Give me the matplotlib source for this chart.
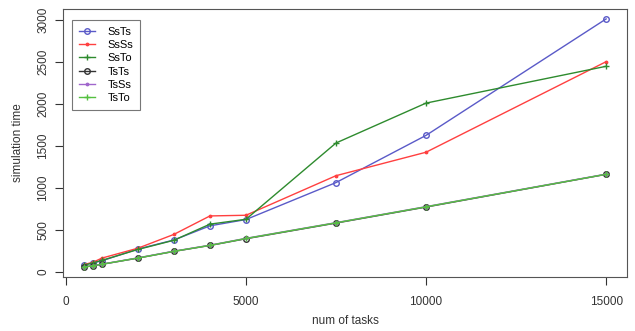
import matplotlib
matplotlib.use("Agg")
import matplotlib.pyplot as plt

plt.rcParams['font.family'] = ['Liberation Sans', 'DejaVu Sans']

tasks = [500, 750, 1000, 2000, 3000, 4000, 5000, 7500, 10000, 15000]
SsTs = [80, 106, 130, 270, 378, 547, 622, 1063, 1626, 3015]
SsSs = [85, 112, 162, 280, 445, 665, 673, 1145, 1425, 2505]
SsTo = [78, 105, 135, 265, 375, 567, 625, 1535, 2011, 2450]
TsTs = [55, 70, 88, 162, 242, 313, 393, 580, 771, 1161]
TsSs = [57, 72, 90, 165, 245, 316, 398, 585, 776, 1164]
TsTo = [56, 71, 89, 163, 243, 314, 396, 583, 774, 1162]
names = ["SsTs", "SsSs", "SsTo", "TsTs", "TsSs", "TsTo"]
xticks = [0, 5000, 10000, 15000]
yticks = [0, 500, 1000, 1500, 2000, 2500, 3000]

series = [SsTs, SsSs, SsTo, TsTs, TsSs, TsTo]
colors = ['#5a5ac8', '#ff4040', '#2e8b2e', '#333333', '#a066cc', '#55c040']
markers = ['o', '.', '+', 'o', '.', '+']
msizes = [4, 3.5, 5, 4, 3.5, 5]

fig = plt.figure(figsize=(6.35, 3.31), dpi=100)
ax = fig.add_axes([63/635, 1-277/331, (627-63)/635, (277-9)/331])

for s, n, c, m, ms in zip(series, names, colors, markers, msizes):
    if m == 'o':
        ax.plot(tasks, s, color=c, lw=1, marker='o', ms=ms, mfc='none', mec=c, mew=1, label=n)
    else:
        ax.plot(tasks, s, color=c, lw=1, marker=m, ms=ms, mew=1, label=n)

xr = tasks[-1] - tasks[0]
ax.set_xlim(tasks[0] - 0.04*xr, tasks[-1] + 0.04*xr)
allv = [v for s in series for v in s]
yr = max(allv) - min(allv)
ax.set_ylim(min(allv) - 0.04*yr, max(allv) + 0.04*yr)

ax.set_xticks(xticks)
ax.set_yticks(yticks)
ax.set_xticklabels([str(t) for t in xticks])
ax.set_yticklabels([str(t) for t in yticks], rotation=90, va='center')
ax.tick_params(direction='out', length=6, width=0.8, colors='#333333', labelsize=8.5, pad=8)
ax.tick_params(axis='y', pad=4)
for sp in ax.spines.values():
    sp.set_color('#555555')
    sp.set_linewidth(0.8)

fig.text((63+627)/2/635, 1-321/331, "num of tasks", fontsize=8.5, color='#333333',
         ha='center', va='center')
fig.text(18/635, 1-143/331, "simulation time", fontsize=8.5, color='#333333',
         ha='center', va='center', rotation=90)

leg = ax.legend(loc='upper left', bbox_to_anchor=(9/564, 1-11/268), fontsize=8,
                frameon=True, fancybox=False, edgecolor='#555555', handlelength=1.5,
                labelspacing=0.3, borderpad=0.6, handletextpad=1.1, borderaxespad=0)
leg.get_frame().set_linewidth(0.8)

fig.savefig("out.png", dpi=100, facecolor='white')
